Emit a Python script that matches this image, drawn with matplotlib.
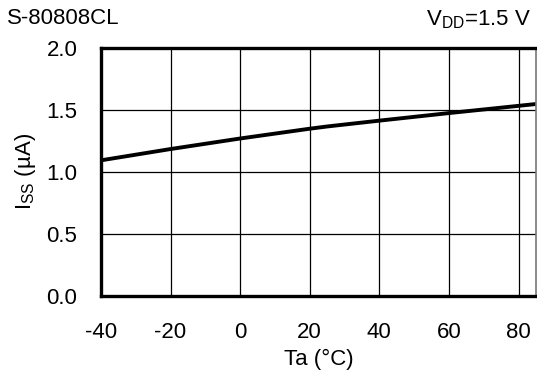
import matplotlib
matplotlib.use("Agg")
import matplotlib.pyplot as plt

plt.rcParams['font.family'] = ['Liberation Sans', 'DejaVu Sans']
plt.rcParams['axes.unicode_minus'] = False

temp = [-40, -20, 0, 20, 25, 40, 60, 85]
iss = [1.094, 1.185, 1.27, 1.349, 1.367, 1.414, 1.475, 1.548]

xticks = [-40, -20, 0, 20, 40, 60, 80]
yticks = [0.0, 0.5, 1.0, 1.5, 2.0]

fs = 16

fig = plt.figure(figsize=(5.37, 3.76), dpi=100)
ax = fig.add_axes([0.188, 0.2128, 0.81, 0.6596])

ax.plot(temp, iss, color='black', linewidth=2.8, solid_capstyle='butt')

ax.set_xlim(-40, 85)
ax.set_ylim(0, 2.0)
ax.set_xticks(xticks)
ax.set_yticks(yticks)
ax.set_yticklabels([f"{v:.1f}" for v in yticks])
ax.grid(True, color='black', linewidth=0.9)
ax.tick_params(length=0, labelsize=fs, pad=17)
ax.tick_params(axis='x', pad=19)

for side in ['left', 'bottom', 'top']:
    ax.spines[side].set_linewidth(2.4)
ax.spines['right'].set_linewidth(1.2)
ax.spines['right'].set_color('#777777')

ax.set_xlabel("Ta (°C)", fontsize=fs, labelpad=4)
ax.set_ylabel(r"I$_{\mathregular{SS}}$ (µA)", fontsize=fs, labelpad=6)

fig.text(0.013, 0.952, "S-80808CL", fontsize=fs, ha='left', va='center')
fig.text(0.988, 0.947, r"V$_{\mathregular{DD}}$=1.5 V", fontsize=fs, ha='right', va='center')

fig.savefig("out.png", dpi=100)
